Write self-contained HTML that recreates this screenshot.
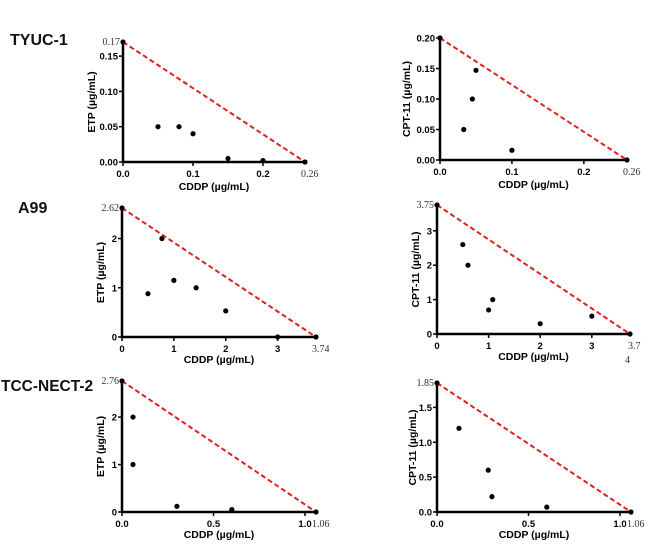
<!DOCTYPE html>
<html><head><meta charset="utf-8"><style>
body{margin:0;background:#fff;width:650px;height:545px;overflow:hidden;font-family:"Liberation Sans",Arial,sans-serif}
.row{position:absolute;font-weight:bold;font-size:16px;color:#111}
</style></head><body>
<div class="row" style="left:10px;top:32px">TYUC-1</div>
<div class="row" style="left:18px;top:200px">A99</div>
<div class="row" style="left:1px;top:378px;font-size:15.5px">TCC-NECT-2</div>
<svg id="s" width="650" height="545" style="position:absolute;left:0;top:0"></svg>
<script>
const p1x=[0.05,0.08,0.1,0.15,0.2], p1y=[0.05,0.05,0.04,0.005,0.002];
const p2x=[0.033,0.045,0.05,0.1], p2y=[0.05,0.1,0.147,0.016];
const p3x=[0.5,0.77,1.0,1.43,2.0,3.0], p3y=[0.88,2.0,1.15,1.0,0.53,0.0];
const p4x=[0.5,0.6,1.0,1.08,2.0,3.0], p4y=[2.6,2.0,0.7,1.0,0.3,0.52];
const p5x=[0.06,0.06,0.3,0.6], p5y=[2.0,1.0,0.12,0.05];
const p6x=[0.12,0.28,0.3,0.6], p6y=[1.2,0.6,0.22,0.07];
const ic50x=[0.26,0.26,3.74,3.74,1.06,1.06];
const ic50y=[0.17,0.20,2.62,3.75,2.76,1.85];
const xTicks=[[0,0.1,0.2],[0,0.1,0.2],[0,1,2,3],[0,1,2,3],[0,0.5,1.0],[0,0.5,1.0]];
const xTickLabels=[["0.0","0.1","0.2"],["0.0","0.1","0.2"],["0","1","2","3"],["0","1","2","3"],["0.0","0.5","1.0"],["0.0","0.5","1.0"]];
const yTicks=[[0,0.05,0.1,0.15],[0,0.05,0.1,0.15,0.2],[0,1,2],[0,1,2,3],[0,1,2],[0,0.5,1.0,1.5]];
const yTickLabels=[["0.00","0.05","0.10","0.15"],["0.00","0.05","0.10","0.15","0.20"],["0","1","2"],["0","1","2","3"],["0","1","2"],["0.0","0.5","1.0","1.5"]];
const ic50xLabels=["0.26","0.26","3.74","3.7","1.06","1.06"];
const ic50yLabels=["0.17","","2.62","3.75","2.76","1.85"];
const yTitles=["ETP (µg/mL)","CPT-11 (µg/mL)","ETP (µg/mL)","CPT-11 (µg/mL)","ETP (µg/mL)","CPT-11 (µg/mL)"];
const layout=[
 {ox:123,oy:162,tx:305,ty:42,yt:28},{ox:440,oy:160,tx:627,ty:38,yt:30},
 {ox:122,oy:337,tx:316,ty:208,yt:18},{ox:437,oy:334,tx:630,ty:205,yt:18},
 {ox:122,oy:512,tx:316,ty:381,yt:18},{ox:437,oy:512,tx:631,ty:383,yt:21}];
const pts=[[p1x,p1y],[p2x,p2y],[p3x,p3y],[p4x,p4y],[p5x,p5y],[p6x,p6y]];
const svg=document.getElementById('s');const NS='http://www.w3.org/2000/svg';
function mk(t,a,txt){const e=document.createElementNS(NS,t);for(const k in a)e.setAttribute(k,a[k]);if(txt!==undefined)e.textContent=txt;svg.appendChild(e);return e;}
layout.forEach((L,i)=>{
 const X=v=>L.ox+v/ic50x[i]*(L.tx-L.ox);
 const Y=v=>L.oy-v/ic50y[i]*(L.oy-L.ty);
 let e=mk('line',{x1:L.ox,y1:L.oy,x2:X(ic50x[i]),y2:L.oy,stroke:'#000','stroke-width':2.5});
 
 e=mk('line',{x1:L.ox,y1:L.oy+1,x2:L.ox,y2:Y(ic50y[i]),stroke:'#000','stroke-width':2.5});
 
 xTicks[i].forEach((t,j)=>{mk('line',{x1:X(t),y1:L.oy,x2:X(t),y2:L.oy+4,stroke:'#000','stroke-width':1.5});
  e=mk('text',{x:X(t),y:L.oy+15,'text-anchor':'middle','font-size':9.5,'font-weight':'bold'},xTickLabels[i][j]);
  });
 yTicks[i].forEach((t,j)=>{mk('line',{x1:L.ox-4,y1:Y(t),x2:L.ox,y2:Y(t),stroke:'#000','stroke-width':1.5});
  e=mk('text',{x:L.ox-5,y:Y(t)+3.5,'text-anchor':'end','font-size':9.5,'font-weight':'bold'},yTickLabels[i][j]);
  });
 e=mk('text',{x:X(ic50x[i])+ (i===3?-2:-4),y:L.oy+15,'font-size':10,fill:'#333','font-family':'Liberation Serif, serif'},ic50xLabels[i]);
 
 if(i===3){e=mk('text',{x:X(ic50x[i])-5,y:L.oy+29,'font-size':10,fill:'#333','font-family':'Liberation Serif, serif'},'4');
  }
 if(ic50yLabels[i]){e=mk('text',{x:L.ox-3,y:Y(ic50y[i])+3,'text-anchor':'end','font-size':10,fill:'#333','font-family':'Liberation Serif, serif'},ic50yLabels[i]);
  }
 e=mk('line',{x1:X(0),y1:Y(ic50y[i]),x2:X(ic50x[i]),y2:Y(0),stroke:'#e02020','stroke-width':2,'stroke-dasharray':'5,3'});
 
 [[0,ic50y[i]],[ic50x[i],0]].forEach(p=>{e=mk('circle',{cx:X(p[0]),cy:Y(p[1]),r:2.6,fill:'#000'});
  });
 pts[i][0].forEach((x,j)=>{e=mk('circle',{cx:X(x),cy:Y(pts[i][1][j]),r:2.6,fill:'#000'});
  });
 const cx=(L.ox+L.tx)/2;
 e=mk('text',{x:cx,y:L.oy+(i<2?28:26),'text-anchor':'middle','font-size':10.5,'font-weight':'bold'},'CDDP (µg/mL)');
 
 const yx=L.ox-L.yt, yc=(L.oy+L.ty)/2;
 e=mk('text',{x:yx,y:yc,'text-anchor':'middle','font-size':10.5,'font-weight':'bold',transform:`rotate(-90 ${yx} ${yc})`},yTitles[i]);
 
});
</script>
</body></html>
